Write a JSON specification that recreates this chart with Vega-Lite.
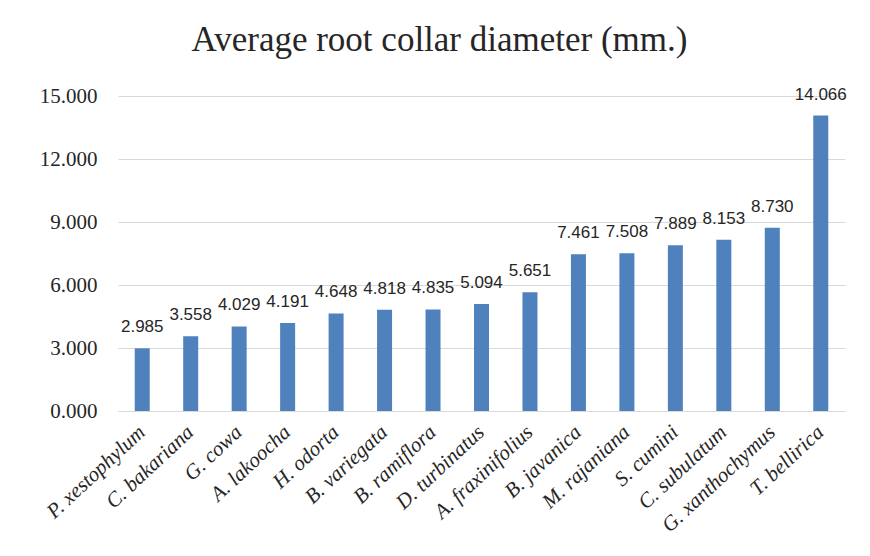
{
  "$schema": "https://vega.github.io/schema/vega-lite/v6.json",
  "width": 727,
  "height": 315,
  "autosize": {"type": "none"},
  "padding": {"left": 118, "top": 96, "right": 25, "bottom": 145},
  "background": "white",
  "title": {
    "text": "Average root collar diameter (mm.)",
    "font": "Liberation Serif",
    "fontSize": 35,
    "fontWeight": "normal",
    "color": "#262626",
    "anchor": "middle",
    "dx": -42,
    "offset": 27
  },
  "data": {
    "values": [
      {"species": "P. xestophylum", "value": 2.985},
      {"species": "C. bakariana", "value": 3.558},
      {"species": "G. cowa", "value": 4.029},
      {"species": "A. lakoocha", "value": 4.191},
      {"species": "H. odorta", "value": 4.648},
      {"species": "B. variegata", "value": 4.818},
      {"species": "B. ramiflora", "value": 4.835},
      {"species": "D. turbinatus", "value": 5.094},
      {"species": "A. fraxinifolius", "value": 5.651},
      {"species": "B. javanica", "value": 7.461},
      {"species": "M. rajaniana", "value": 7.508},
      {"species": "S. cumini", "value": 7.889},
      {"species": "C. subulatum", "value": 8.153},
      {"species": "G. xanthochymus", "value": 8.73},
      {"species": "T. bellirica", "value": 14.066}
    ]
  },
  "encoding": {
    "x": {
      "field": "species",
      "type": "nominal",
      "sort": null,
      "scale": {"paddingInner": 0, "paddingOuter": 0},
      "axis": {
        "title": null,
        "labelAngle": -43,
        "labelAlign": "right",
        "labelBaseline": "middle",
        "labelFont": "Liberation Serif",
        "labelFontStyle": "italic",
        "labelFontSize": 21,
        "labelColor": "#262626",
        "labelPadding": 18,
        "ticks": false,
        "domainColor": "#d9d9d9",
        "domainWidth": 1.2,
        "grid": false
      }
    },
    "y": {
      "field": "value",
      "type": "quantitative",
      "scale": {"domain": [0, 15], "nice": false},
      "axis": {
        "title": null,
        "values": [0, 3, 6, 9, 12, 15],
        "format": ".3f",
        "labelFont": "Liberation Serif",
        "labelFontSize": 21,
        "labelColor": "#262626",
        "labelPadding": 21,
        "ticks": false,
        "domain": false,
        "gridColor": "#d9d9d9",
        "gridWidth": 1.2
      }
    }
  },
  "layer": [
    {"mark": {"type": "bar", "size": 15, "color": "#4f81bd"}},
    {
      "mark": {
        "type": "text",
        "baseline": "bottom",
        "dy": -12,
        "font": "Liberation Sans",
        "fontSize": 17,
        "color": "#262626"
      },
      "encoding": {"text": {"field": "value", "type": "quantitative", "format": ".3f"}}
    }
  ],
  "config": {"view": {"stroke": null}, "axis": {"labelFont": "Liberation Serif"}}
}
